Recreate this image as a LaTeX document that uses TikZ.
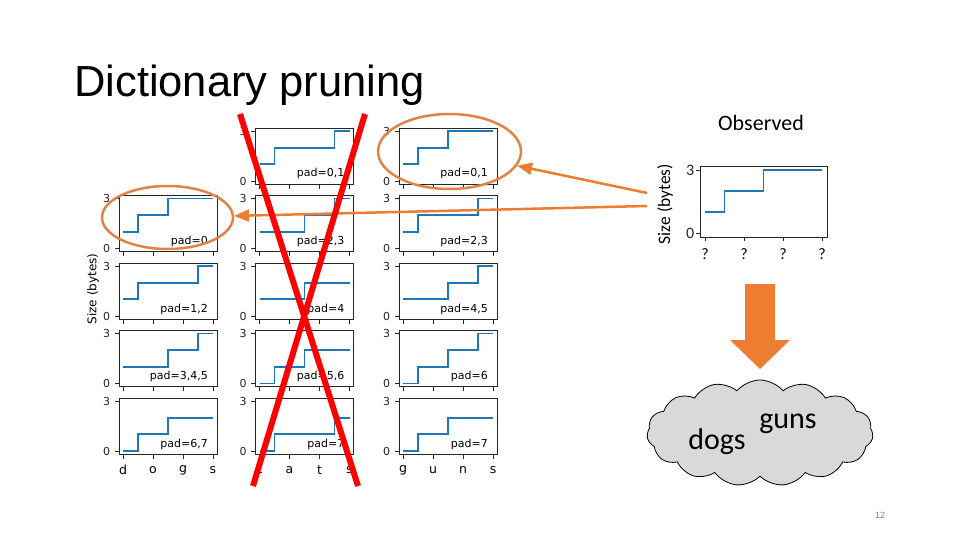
\documentclass[tikz,border=0pt]{standalone}
\usepackage{fontspec}
\setmainfont{Liberation Sans}
\newfontfamily\mplfont{DejaVu Sans}
\newfontfamily\calfont{Carlito}
\usetikzlibrary{arrows,shapes.geometric,shapes.symbols}
\definecolor{mplblue}{rgb}{0.12,0.47,0.71}
\definecolor{ppturange}{rgb}{0.93,0.49,0.19}
\definecolor{ringorange}{rgb}{0.89,0.51,0.27}
\definecolor{cloudgray}{rgb}{0.85,0.85,0.85}
\tikzset{
  axframe/.style={black!85,line width=0.8pt},
  stepline/.style={mplblue,line width=1.8pt},
  ticklab/.style={font=\mplfont\fontsize{11}{12}\selectfont,inner sep=4pt},
  padlab/.style={font=\mplfont\fontsize{11}{12}\selectfont,inner sep=0pt},
  xlab/.style={font=\mplfont\fontsize{12.5}{14}\selectfont,inner sep=0pt},
  obslab/.style={font=\calfont\fontsize{16}{18}\selectfont,inner sep=1.5pt},
  padring/.style={ellipse,draw=ringorange,line width=2.5pt,inner sep=0pt},
  crossline/.style={red,line width=6pt},
}
% left, top, four levels, label
\newcommand{\padplot}[7]{%
  \begin{scope}[shift={(#1,#2)}]
  \draw[axframe] (0,0) rectangle (98,56);
  \foreach \t in {4,34,64,94} \draw[axframe] (\t,56) -- (\t,60.5);
  \draw[axframe] (0,3) -- (-4.5,3) node[ticklab,left] {3};
  \draw[axframe] (0,53) -- (-4.5,53) node[ticklab,left] {0};
  \draw[stepline] (4,{53-#3*50/3}) -- (19,{53-#3*50/3}) -- (19,{53-#4*50/3})
    -- (49,{53-#4*50/3}) -- (49,{53-#5*50/3}) -- (79,{53-#5*50/3})
    -- (79,{53-#6*50/3}) -- (94,{53-#6*50/3});
  \node[padlab,anchor=base east] at (89,49) {#7};
  \end{scope}}
\begin{document}
\begin{tikzpicture}[x=1pt,y=-1pt,line cap=butt,>=triangle 45]
\useasboundingbox (0,0) rectangle (960,540);
\node[anchor=base west,font=\fontsize{43.5}{50}\selectfont,inner sep=0pt] (title) at (74,97) {Dictionary pruning};

% dogs
\padplot{119}{195.5}{1}{2}{3}{3}{pad=0}
\padplot{119}{263}{1}{2}{2}{3}{pad=1,2}
\padplot{119}{330.5}{1}{1}{2}{3}{pad=3,4,5}
\padplot{119}{398}{0}{1}{2}{2}{pad=6,7}
% cats
\padplot{255.5}{128}{1}{2}{2}{3}{pad=0,1}
\padplot{255.5}{195.5}{1}{1}{2}{3}{pad=2,3}
\padplot{255.5}{263}{1}{1}{2}{2}{pad=4}
\padplot{255.5}{330.5}{0}{1}{2}{2}{pad=5,6}
\padplot{255.5}{398}{0}{1}{1}{2}{pad=7}
% guns
\padplot{399}{128}{1}{2}{3}{3}{pad=0,1}
\padplot{399}{195.5}{1}{2}{2}{3}{pad=2,3}
\padplot{399}{263}{1}{1}{2}{3}{pad=4,5}
\padplot{399}{330.5}{0}{1}{2}{3}{pad=6}
\padplot{399}{398}{0}{1}{2}{2}{pad=7}

\foreach \c [count=\i from 0] in {d,o,g,s} \node[xlab] at (123+30*\i,470) {\c};
\foreach \c [count=\i from 0] in {c,a,t,s} \node[xlab] at (259.5+30*\i,470) {\c};
\foreach \c [count=\i from 0] in {g,u,n,s} \node[xlab] at (403+30*\i,470) {\c};
\node[rotate=90,font=\mplfont\fontsize{12}{13}\selectfont,inner sep=0pt] (sizelab) at (93,289) {Size (bytes)};

% observed
\node[font=\calfont\fontsize{22}{24}\selectfont] (obstitle) at (761,123) {Observed};
\draw[axframe] (700,166) rectangle (827,237);
\foreach \t in {705,744,783,822} \draw[axframe] (\t,237) -- (\t,241);
\foreach \t in {705,744,783,822} \node[obslab] at (\t,254) {?};
\draw[axframe] (700,170) -- (696,170) node[obslab,left] {3};
\draw[axframe] (700,233) -- (696,233) node[obslab,left] {0};
\draw[stepline] (705,212) -- (724.5,212) -- (724.5,191) -- (763.5,191) -- (763.5,170) -- (822,170);
\node[obslab,rotate=90,font=\calfont\fontsize{17.5}{20}\selectfont] (obsylab) at (665,204) {Size (bytes)};

% rings and pointers
\node[padring,minimum width=131pt,minimum height=63pt] (dogsring) at (167.5,217.5) {};
\node[padring,minimum width=143pt,minimum height=75pt] (gunsring) at (449.5,151.5) {};
\coordinate (obsA) at (647,193);
\coordinate (obsB) at (647,206);
\draw[->,ppturange,line width=2.5pt] (obsA) -- (gunsring);
\draw[->,ppturange,line width=2.5pt] (obsB) -- (dogsring);

% red cross over cats
\draw[crossline] (240,114) -- (358,486);
\draw[crossline] (365,114) -- (253,486);

% result
\fill[ppturange] (745,284) -- (775,284) -- (775,340) -- (790,340) -- (760,369) -- (730,340) -- (745,340) -- cycle;
\node[cloud,cloud puffs=15,cloud puff arc=100,aspect=2.1,draw=black,line width=0.8pt,fill=cloudgray,minimum width=226pt,minimum height=106pt] (wordcloud) at (760,433) {};
\node[font=\calfont\fontsize{30}{34}\selectfont,inner sep=0pt] (dogsword) at (717,442) {dogs};
\node[font=\calfont\fontsize{30}{34}\selectfont,inner sep=0pt] (gunsword) at (788,423.5) {guns};

\node[font=\fontsize{9}{10}\selectfont,text=gray] (pagenum) at (880,515) {12};
\end{tikzpicture}
\end{document}
